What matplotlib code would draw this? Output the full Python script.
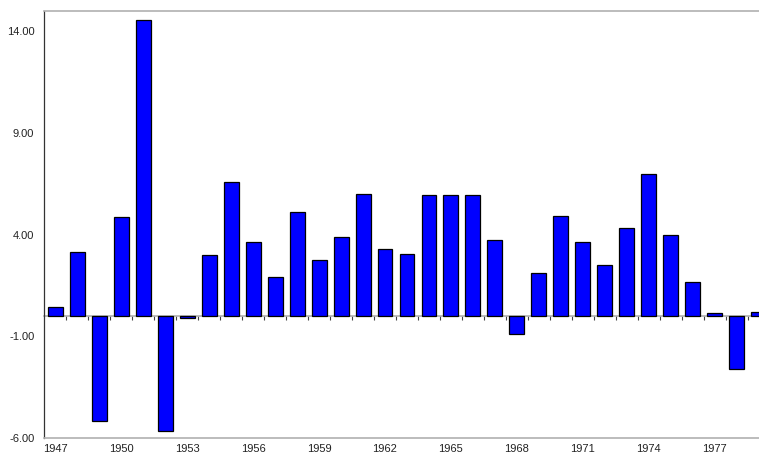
import numpy as np
import matplotlib
matplotlib.use("Agg")
import matplotlib.pyplot as plt

years = list(range(1947, 1980))
values = [0.43, 3.14, -5.14, 4.87, 14.55, -5.68, -0.11, 2.99, 6.57, 3.66,
          1.92, 5.11, 2.77, 3.88, 5.99, 3.30, 3.04, 5.94, 5.94, 5.94,
          3.74, -0.87, 2.12, 4.94, 3.66, 2.53, 4.35, 6.96, 3.96, 1.67,
          0.16, -2.63, 0.21]
yticks = [-6, -1, 4, 9, 14]

plt.rcParams['font.family'] = ['Liberation Sans', 'DejaVu Sans']

fig = plt.figure(figsize=(7.59, 4.57), dpi=100)
# axes runs a little past the right edge, as in the reference
ax = fig.add_axes([44/759, 19/457, 726/759, 427/457])

x = np.arange(len(years))
ax.bar(x, values, width=0.68, color='#0000ff', edgecolor='black', linewidth=0.9, zorder=3)

ax.set_xlim(-0.52, len(years) - 0.48)
ax.set_ylim(-6, 15)

ax.set_yticks(yticks)
ax.set_yticklabels(["%.2f" % v for v in yticks])
ax.set_xticks(x[::3])
ax.set_xticklabels([str(y) for y in years[::3]])
ax.tick_params(axis='both', length=0, labelsize=8, colors='#222222')
ax.tick_params(axis='y', pad=7)
ax.tick_params(axis='x', pad=4)

for s in ['top', 'bottom']:
    ax.spines[s].set_color('#b0b0b0')
    ax.spines[s].set_linewidth(1.2)
ax.spines['left'].set_color('#333333')
ax.spines['left'].set_linewidth(0.9)
ax.spines['right'].set_visible(False)

# zero line with small ticks between bars
ax2 = ax.twiny()
ax2.set_xlim(ax.get_xlim())
ax2.spines['bottom'].set_position(('data', 0))
ax2.spines['bottom'].set_color('#a8a8a8')
ax2.spines['bottom'].set_linewidth(1.1)
for s in ['top', 'left', 'right']:
    ax2.spines[s].set_visible(False)
ax2.xaxis.set_ticks_position('bottom')
ax2.set_xticks(x[:-1] + 0.5)
ax2.tick_params(axis='x', direction='out', length=3, width=0.8, color='#444444', labelbottom=False, labeltop=False)
ax.set_zorder(ax2.get_zorder() + 1)
ax.patch.set_visible(False)

fig.savefig("out.png", dpi=100)
